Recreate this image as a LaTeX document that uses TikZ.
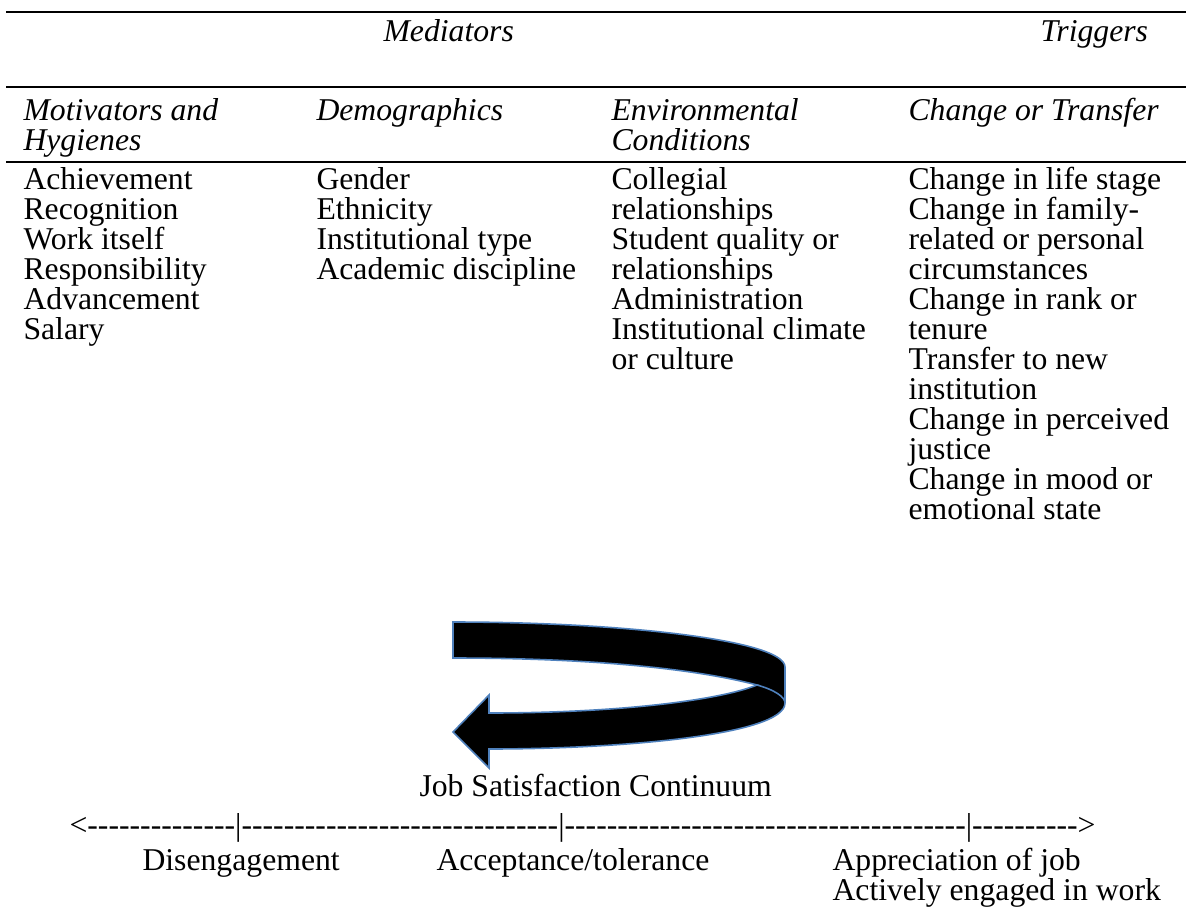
\documentclass[tikz,border=0pt]{standalone}
\usepackage{fontspec}
\setmainfont{Liberation Serif}[Ligatures=TeXOff]
\definecolor{arrowline}{HTML}{4F81BD}
\newcommand{\cellfont}{\fontsize{12}{11.36}\selectfont}
\newcommand{\dashrun}[1]{\foreach \k in {1,...,#1}{-}}
\begin{document}
\begin{tikzpicture}[x=0.3785pt, y=-0.3785pt,
    cell/.style={anchor=north west, inner sep=0pt, align=left, font=\cellfont},
    head/.style={cell, font=\cellfont\itshape},
    line/.style={anchor=base west, inner sep=0pt, font=\cellfont},
    rule/.style={line width=1pt}]
    \useasboundingbox (0,0) rectangle (1186,915);

    % table rules
    \draw[rule] (6,12) -- (1186,12);
    \draw[rule] (6,87) -- (1186,87);
    \draw[rule] (6,162) -- (1186,162);

    % top row
    \node[line, font=\cellfont\itshape] (mediators) at (383,41) {Mediators};
    \node[line, font=\cellfont\itshape] (triggers) at (1040,41) {Triggers};

    % column heads
    \node[head] (motiv) at (23,97.5) {Motivators and\\Hygienes};
    \node[head] (demog) at (316,97.5) {Demographics};
    \node[head] (envir) at (611,97.5) {Environmental\\Conditions};
    \node[head] (change) at (908,97.5) {Change or Transfer};

    % column lists
    \node[cell] (motivlist) at (23,166.5) {Achievement\\Recognition\\Work itself\\Responsibility\\Advancement\\Salary};
    \node[cell] (demoglist) at (316,166.5) {Gender\\Ethnicity\\Institutional type\\Academic discipline};
    \node[cell] (envirlist) at (611,166.5) {Collegial\\relationships\\Student quality or\\relationships\\Administration\\Institutional climate\\or culture};
    \node[cell] (changelist) at (908,166.5) {Change in life stage\\Change in family-\\related or personal\\circumstances\\Change in rank or\\tenure\\Transfer to new\\institution\\Change in perceived\\justice\\Change in mood or\\emotional state};

    % curved block arrow
    \filldraw[fill=black, draw=arrowline, line width=0.6pt]
        (453,622) .. controls (620,622) and (785,640) .. (785,667)
        -- (785,703)
        .. controls (785,735) and (620,749) .. (489,749)
        -- (489,768) -- (453,732) -- (489,695) -- (489,713)
        .. controls (620,713) and (720,700) .. (757,685)
        .. controls (700,670) and (600,658) .. (453,658) -- cycle;
    \draw[arrowline, line width=0.6pt] (757,685) .. controls (775,690) and (785,697) .. (785,703);

    % continuum
    \node[line] (title) at (419,796) {Job Satisfaction Continuum};
    \node[line] (scale) at (69,835) {<\dashrun{14}|\dashrun{30}|\dashrun{38}|\dashrun{10}>};
    \node[line] (diseng) at (142,870) {Disengagement};
    \node[line] (accept) at (436,870) {Acceptance/tolerance};
    \node[line] (apprec) at (832,870) {Appreciation of job};
    \node[line] (active) at (832,900) {Actively engaged in work};
\end{tikzpicture}
\end{document}
